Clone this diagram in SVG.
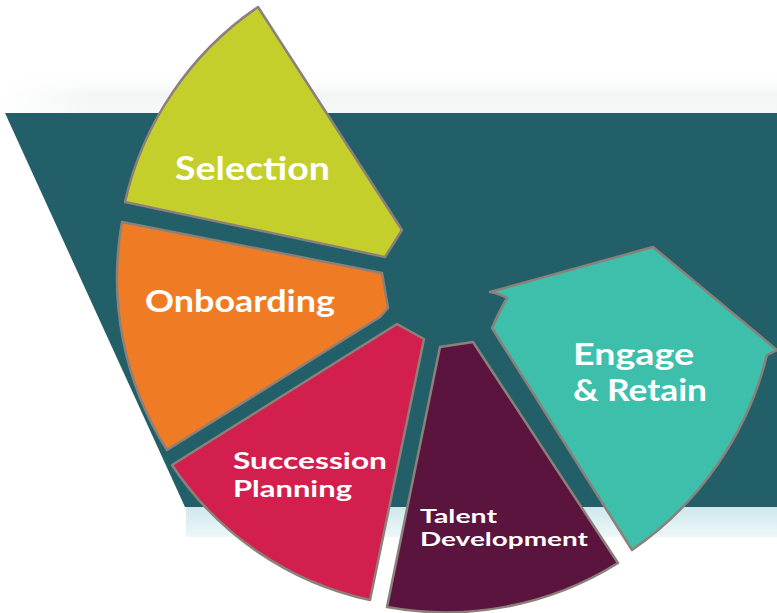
<svg xmlns="http://www.w3.org/2000/svg" width="777" height="613" viewBox="0 0 777 613">
<defs>
<linearGradient id="strip" x1="0" y1="0" x2="0" y2="1">
<stop offset="0" stop-color="#cfe8ed"/>
<stop offset="1" stop-color="#eef7f8"/>
</linearGradient>
<linearGradient id="haze" x1="0" y1="0" x2="0" y2="1">
<stop offset="0" stop-color="#ffffff" stop-opacity="0"/>
<stop offset="0.6" stop-color="#f4f6f6"/>
<stop offset="1" stop-color="#f6f8f8"/>
</linearGradient>
<linearGradient id="hazeX" x1="0" y1="0" x2="1" y2="0">
<stop offset="0" stop-color="#ffffff"/>
<stop offset="0.12" stop-color="#ffffff" stop-opacity="0"/>
<stop offset="1" stop-color="#ffffff" stop-opacity="0"/>
</linearGradient>
</defs>
<style>
.seg{stroke:#8c817a;stroke-width:2.5;stroke-linejoin:round}
.lbl{font-family:Lato,"Open Sans","Liberation Sans",sans-serif;font-weight:700;fill:#ffffff}
</style>
<rect x="0" y="0" width="777" height="613" fill="#ffffff"/>
<rect x="0" y="66" width="777" height="47" fill="url(#haze)"/>
<rect x="0" y="66" width="777" height="47" fill="url(#hazeX)"/>
<g id="background">
<rect x="186" y="507" width="591" height="30" fill="url(#strip)"/>
<polygon points="5,113 777,113 777,507 185,507" fill="#235f68"/>
</g>
<g id="selection">
<path class="seg" fill="#c4cf2b" d="M258,7 L402,230 L385,257 L125,202 A322 322 0 0 1 258,7 Z"/>
<text class="lbl" x="175" y="180" font-size="32" textLength="155" lengthAdjust="spacingAndGlyphs">Selection</text>
</g>
<g id="onboarding">
<path class="seg" fill="#ef7c25" d="M122,222 L382,273 L388,308 L380,317 L167,450 A320 320 0 0 1 122,222 Z"/>
<text class="lbl" x="145" y="312" font-size="31" textLength="190" lengthAdjust="spacingAndGlyphs">Onboarding</text>
</g>
<g id="succession">
<path class="seg" fill="#d31f4e" d="M397,324 L424,339 L370,600 A318 318 0 0 1 172,465 Z"/>
<text class="lbl" font-size="23"><tspan x="233" y="469" textLength="154" lengthAdjust="spacingAndGlyphs">Succession</tspan><tspan x="233" y="497" textLength="119" lengthAdjust="spacingAndGlyphs">Planning</tspan></text>
</g>
<g id="talent">
<path class="seg" fill="#5a143e" d="M440,347 L473,342 L618,563 A325 325 0 0 1 387,607 Z"/>
<text class="lbl" font-size="19"><tspan x="420" y="523" textLength="77" lengthAdjust="spacingAndGlyphs">Talent</tspan><tspan x="420" y="546" textLength="168" lengthAdjust="spacingAndGlyphs">Development</tspan></text>
</g>
<g id="engage">
<path class="seg" fill="#3dbfac" d="M490,292 L653,247 L777,350 L767,355 A335 335 0 0 1 632,550 L492,328 Q500,310 507,298 Q498,293 490,292 Z"/>
<text class="lbl" font-size="30"><tspan x="573" y="365" textLength="121" lengthAdjust="spacingAndGlyphs">Engage</tspan><tspan x="573" y="401" textLength="134" lengthAdjust="spacingAndGlyphs">&amp; Retain</tspan></text>
</g>
<g id="connectors"/>
</svg>
